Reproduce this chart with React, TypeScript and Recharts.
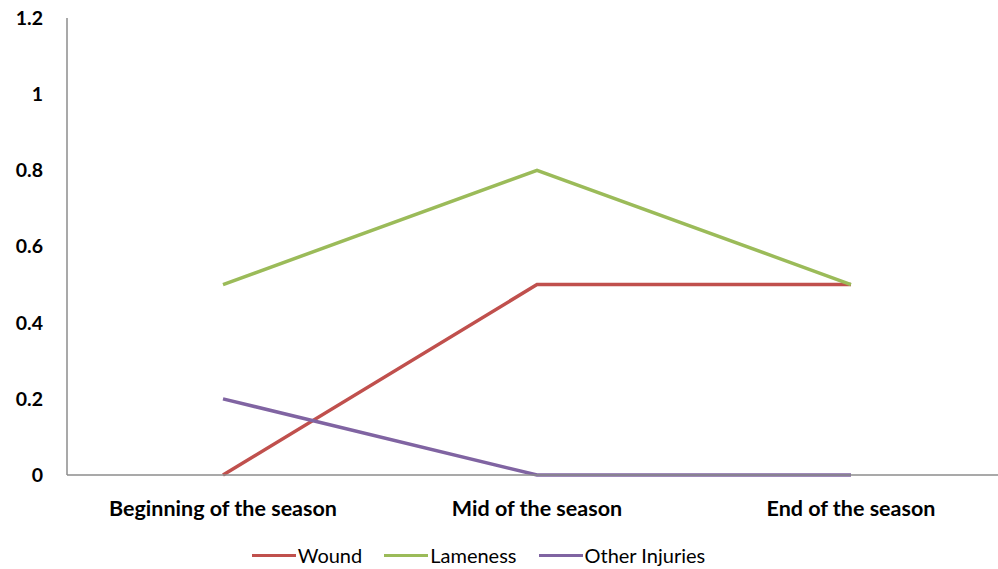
import { LineChart, Line, XAxis, YAxis, Legend } from "recharts"

const categories = ["Beginning of the season", "Mid of the season", "End of the season"]
const wound = [0, 0.5, 0.5]
const lameness = [0.5, 0.8, 0.5]
const otherInjuries = [0.2, 0, 0]
const yTicks = [0, 0.2, 0.4, 0.6, 0.8, 1, 1.2]
const seriesOrder = ["Wound", "Lameness", "Other Injuries"]

const data = categories.map((name, i) => ({
  name,
  wound: wound[i],
  lameness: lameness[i],
  other: otherInjuries[i],
}))

const font = "Lato, 'Open Sans', sans-serif"

function LegendContent(props: any) {
  const payload = [...(props.payload || [])].sort(
    (a: any, b: any) => seriesOrder.indexOf(a.value) - seriesOrder.indexOf(b.value)
  )
  return (
    <div style={{ display: "flex", justifyContent: "center", alignItems: "center", fontFamily: font, fontSize: 20, color: "#000", paddingRight: 50, height: 28 }}>
      {payload.map((p: any, i: number) => (
        <div key={p.value} style={{ display: "flex", alignItems: "center", marginRight: i < payload.length - 1 ? 22 : 0 }}>
          <span style={{ display: "inline-block", width: 44, height: 3, background: p.color, marginRight: 2 }} />
          <span>{p.value}</span>
        </div>
      ))}
    </div>
  )
}

export default function App() {
  return (
    <div style={{ position: "absolute", left: 0, top: 0, width: 998, height: 569, overflow: "hidden", background: "#fff" }}>
      <LineChart width={1010} height={569} data={data} margin={{ top: 18, right: 3, left: 0, bottom: 0 }}>
        <XAxis
          dataKey="name"
          axisLine={{ stroke: "#8c8c8c", strokeWidth: 1.5 }}
          tickLine={false}
          tickMargin={20}
          padding={{ left: 156, right: 156 }}
          tick={{ fill: "#000", fontSize: 21.5, fontWeight: 700, fontFamily: font }}
          height={66}
          interval={0}
        />
        <YAxis
          domain={[0, 1.2]}
          ticks={yTicks}
          width={67}
          axisLine={{ stroke: "#8c8c8c", strokeWidth: 1.5 }}
          tickLine={false}
          tickMargin={18}
          tick={{ fill: "#000", fontSize: 19.5, fontWeight: 700, fontFamily: font }}
        />
        <Legend verticalAlign="bottom" height={28} content={<LegendContent />} />
        <Line type="linear" dataKey="wound" name="Wound" stroke="#C0504D" strokeWidth={3.5} dot={false} isAnimationActive={false} />
        <Line type="linear" dataKey="lameness" name="Lameness" stroke="#9BBB59" strokeWidth={3.5} dot={false} isAnimationActive={false} />
        <Line type="linear" dataKey="other" name="Other Injuries" stroke="#8064A2" strokeWidth={3.5} dot={false} isAnimationActive={false} />
      </LineChart>
    </div>
  )
}
